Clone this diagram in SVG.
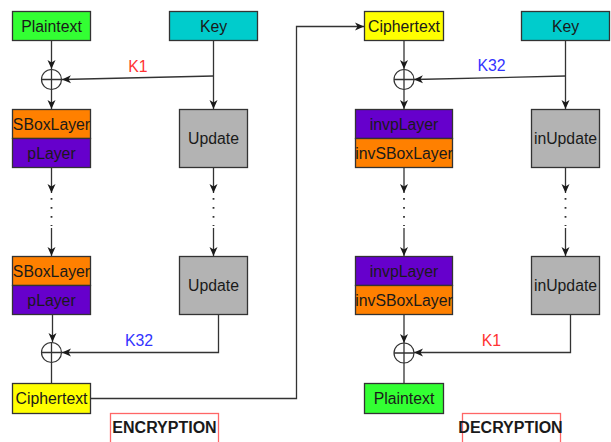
<svg xmlns="http://www.w3.org/2000/svg" width="611" height="442" viewBox="0 0 611 442">
  <style>
    .box { stroke: #333333; stroke-width: 1.3; }
    .txt { font-family: "Liberation Sans", Arial, sans-serif; font-size: 15.8px; fill: #1a1a1a; text-anchor: middle; dominant-baseline: central; }
    .lbl { font-family: "Liberation Sans", Arial, sans-serif; font-size: 15.8px; text-anchor: middle; }
    .ttl { font-family: "Liberation Sans", Arial, sans-serif; font-size: 16px; font-weight: bold; fill: #1a1a1a; text-anchor: middle; dominant-baseline: central; }
    .ln { fill: none; stroke: #333333; stroke-width: 1.3; }
    .dots { fill: none; stroke: #333333; stroke-width: 1.8; stroke-dasharray: 1.8 7.2; }
    .xor { fill: #ffffff; stroke: #333333; stroke-width: 1.2; }
    .green { fill: #33ff33; }
    .cyan { fill: #00cccc; }
    .orange { fill: #ff8000; }
    .purple { fill: #6600cc; }
    .gray { fill: #b3b3b3; }
    .yellow { fill: #ffff00; }
    .frame { fill: none; stroke: #ff6666; stroke-width: 1.3; }
  </style>
  <defs>
    <marker id="arr" markerWidth="10" markerHeight="10" refX="9" refY="5" orient="auto" markerUnits="userSpaceOnUse">
      <path d="M0,1 L9,5 L0,9 L2.5,5 Z" fill="#1a1a1a"/>
    </marker>
    <g id="xorSym">
      <circle class="xor" r="10"/>
      <path class="ln" d="M-10,0 H10 M0,-10 V10" stroke-width="1.1"/>
    </g>
  </defs>

  <rect width="611" height="442" fill="#ffffff"/>

  <!-- connectors -->
  <g id="connectors">
    <!-- encryption: data path -->
    <path class="ln" d="M51.5,40.5 V69" marker-end="url(#arr)"/>
    <path class="ln" d="M51.5,89.5 V109" marker-end="url(#arr)"/>
    <path class="ln" d="M51.5,167.5 V193" marker-end="url(#arr)"/>
    <path class="dots" d="M51.5,198 V226"/>
    <path class="ln" d="M51.5,228 V256" marker-end="url(#arr)"/>
    <path class="ln" d="M52.5,314.5 V342" marker-end="url(#arr)"/>
    <path class="ln" d="M51.5,362.5 V383.5"/>
    <!-- encryption: key schedule -->
    <path class="ln" d="M213.5,40.5 V109" marker-end="url(#arr)"/>
    <path class="ln" d="M213.5,76 L62,79.5" marker-end="url(#arr)"/>
    <path class="ln" d="M213.5,167.5 V193" marker-end="url(#arr)"/>
    <path class="dots" d="M213.5,198 V226"/>
    <path class="ln" d="M213.5,228 V256" marker-end="url(#arr)"/>
    <path class="ln" d="M218.5,314.5 V352.5 H62" marker-end="url(#arr)"/>
    <!-- ciphertext handed to decryption -->
    <path class="ln" d="M90.5,398.5 H296.5 V26.5 H364" marker-end="url(#arr)"/>
    <!-- decryption: data path -->
    <path class="ln" d="M404,40.5 V69" marker-end="url(#arr)"/>
    <path class="ln" d="M404,89.5 V109" marker-end="url(#arr)"/>
    <path class="ln" d="M404,167.5 V193" marker-end="url(#arr)"/>
    <path class="dots" d="M404,198 V226"/>
    <path class="ln" d="M404,228 V256" marker-end="url(#arr)"/>
    <path class="ln" d="M404,314.5 V343" marker-end="url(#arr)"/>
    <path class="ln" d="M404,363 V383.5"/>
    <!-- decryption: key schedule -->
    <path class="ln" d="M565.5,40.5 V109" marker-end="url(#arr)"/>
    <path class="ln" d="M565.5,76 L414,79.5" marker-end="url(#arr)"/>
    <path class="ln" d="M565.5,167.5 V193" marker-end="url(#arr)"/>
    <path class="dots" d="M565.5,198 V226"/>
    <path class="ln" d="M565.5,228 V256" marker-end="url(#arr)"/>
    <path class="ln" d="M570.5,314.5 V352.5 H414" marker-end="url(#arr)"/>
  </g>

  <!-- connector labels -->
  <text class="lbl" x="138" y="71.5" fill="#ff3333">K1</text>
  <text class="lbl" x="139" y="345.5" fill="#3333ff">K32</text>
  <text class="lbl" x="491.5" y="71" fill="#3333ff">K32</text>
  <text class="lbl" x="491.5" y="345.5" fill="#ff3333">K1</text>

  <!-- encryption nodes -->
  <g id="enc-plaintext"><rect class="box green" x="12.5" y="11.5" width="78" height="29"/><text class="txt" x="51.5" y="26">Plaintext</text></g>
  <g id="enc-key"><rect class="box cyan" x="169.5" y="11.5" width="88" height="29"/><text class="txt" x="213.5" y="26">Key</text></g>
  <g id="enc-xor1"><use href="#xorSym" x="51.5" y="79.5"/></g>
  <g id="enc-round1">
    <rect class="box orange" x="12.5" y="109.5" width="78" height="29"/><text class="txt" x="51.5" y="124">SBoxLayer</text>
    <rect class="box purple" x="12.5" y="138.5" width="78" height="29"/><text class="txt" x="51.5" y="153">pLayer</text>
  </g>
  <g id="enc-update1"><rect class="box gray" x="179.5" y="109.5" width="68" height="58"/><text class="txt" x="213.5" y="138.5">Update</text></g>
  <g id="enc-round32">
    <rect class="box orange" x="12.5" y="256.5" width="78" height="29"/><text class="txt" x="51.5" y="271">SBoxLayer</text>
    <rect class="box purple" x="12.5" y="285.5" width="78" height="29"/><text class="txt" x="51.5" y="300">pLayer</text>
  </g>
  <g id="enc-update32"><rect class="box gray" x="179.5" y="256.5" width="68" height="58"/><text class="txt" x="213.5" y="285.5">Update</text></g>
  <g id="enc-xor32"><use href="#xorSym" x="51.5" y="352.5"/></g>
  <g id="enc-ciphertext"><rect class="box yellow" x="12.5" y="383.5" width="78" height="30"/><text class="txt" x="51.5" y="398.5">Ciphertext</text></g>
  <g id="enc-title"><rect class="frame" x="110.5" y="413.5" width="108" height="40"/><text class="ttl" x="164.5" y="427.5">ENCRYPTION</text></g>

  <!-- decryption nodes -->
  <g id="dec-ciphertext"><rect class="box yellow" x="364.5" y="11.5" width="79" height="29"/><text class="txt" x="404" y="26">Ciphertext</text></g>
  <g id="dec-key"><rect class="box cyan" x="521.5" y="11.5" width="88" height="29"/><text class="txt" x="565.5" y="26">Key</text></g>
  <g id="dec-xor1"><use href="#xorSym" x="404" y="79.5"/></g>
  <g id="dec-round1">
    <rect class="box purple" x="355.5" y="109.5" width="97" height="29"/><text class="txt" x="404" y="124">invpLayer</text>
    <rect class="box orange" x="355.5" y="138.5" width="97" height="29"/><text class="txt" x="404" y="153">invSBoxLayer</text>
  </g>
  <g id="dec-update1"><rect class="box gray" x="531.5" y="109.5" width="68" height="58"/><text class="txt" x="565.5" y="138.5">inUpdate</text></g>
  <g id="dec-round32">
    <rect class="box purple" x="355.5" y="256.5" width="97" height="29"/><text class="txt" x="404" y="271">invpLayer</text>
    <rect class="box orange" x="355.5" y="285.5" width="97" height="29"/><text class="txt" x="404" y="300">invSBoxLayer</text>
  </g>
  <g id="dec-update32"><rect class="box gray" x="531.5" y="256.5" width="68" height="58"/><text class="txt" x="565.5" y="285.5">inUpdate</text></g>
  <g id="dec-xor32"><use href="#xorSym" x="404" y="353"/></g>
  <g id="dec-plaintext"><rect class="box green" x="364.5" y="383.5" width="79" height="30"/><text class="txt" x="404" y="398.5">Plaintext</text></g>
  <g id="dec-title"><rect class="frame" x="462.5" y="413.5" width="98" height="40"/><text class="ttl" x="510.5" y="427.5">DECRYPTION</text></g>
</svg>
